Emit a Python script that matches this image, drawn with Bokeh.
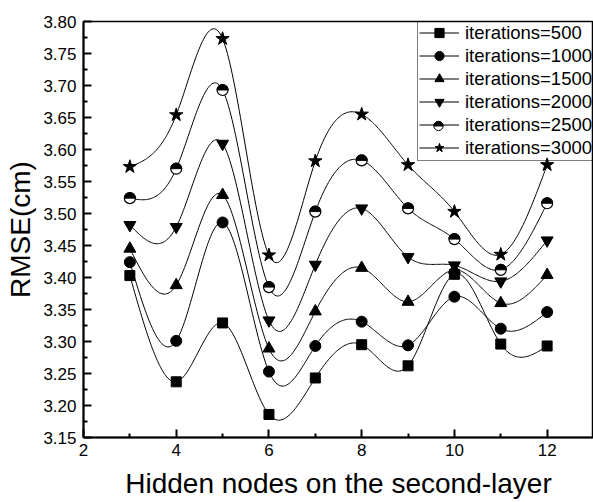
import numpy as np
from bokeh.plotting import figure
from bokeh.models import (Range1d, FixedTicker, NumeralTickFormatter, Legend, LegendItem)
from bokeh.embed import file_html
from bokeh.resources import INLINE

# ---- data ----
hidden_nodes = [3, 4, 5, 6, 7, 8, 9, 10, 11, 12]
rmse_500 = [3.403, 3.237, 3.329, 3.186, 3.243, 3.295, 3.262, 3.405, 3.296, 3.293]
rmse_1000 = [3.424, 3.301, 3.486, 3.253, 3.293, 3.331, 3.294, 3.370, 3.320, 3.346]
rmse_1500 = [3.445, 3.388, 3.529, 3.289, 3.347, 3.415, 3.362, 3.412, 3.360, 3.404]
rmse_2000 = [3.482, 3.479, 3.609, 3.333, 3.420, 3.508, 3.432, 3.419, 3.394, 3.458]
rmse_2500 = [3.524, 3.570, 3.693, 3.385, 3.503, 3.583, 3.508, 3.460, 3.412, 3.516]
rmse_3000 = [3.573, 3.654, 3.773, 3.435, 3.582, 3.655, 3.576, 3.503, 3.436, 3.576]
series_labels = ["iterations=500", "iterations=1000", "iterations=1500",
                 "iterations=2000", "iterations=2500", "iterations=3000"]
x_major_ticks = [2, 4, 6, 8, 10, 12]
x_minor_ticks = [3, 5, 7, 9, 11, 13]
y_major_ticks = [3.15, 3.20, 3.25, 3.30, 3.35, 3.40, 3.45, 3.50, 3.55, 3.60, 3.65, 3.70, 3.75, 3.80]
y_minor_ticks = [3.175, 3.225, 3.275, 3.325, 3.375, 3.425, 3.475, 3.525, 3.575, 3.625, 3.675, 3.725, 3.775]

FONT = "Liberation Sans"


def natural_spline(x, y, n=40):
    x = np.asarray(x, dtype=float)
    y = np.asarray(y, dtype=float)
    N = len(x)
    h = np.diff(x)
    A = np.zeros((N, N))
    r = np.zeros(N)
    A[0, 0] = 1.0
    A[-1, -1] = 1.0
    for i in range(1, N - 1):
        A[i, i - 1] = h[i - 1]
        A[i, i] = 2 * (h[i - 1] + h[i])
        A[i, i + 1] = h[i]
        r[i] = 6 * ((y[i + 1] - y[i]) / h[i] - (y[i] - y[i - 1]) / h[i - 1])
    M = np.linalg.solve(A, r)
    xs, ys = [], []
    for i in range(N - 1):
        x0, x1, hh = x[i], x[i + 1], h[i]
        t = np.linspace(x0, x1, n)
        s = (M[i] * (x1 - t) ** 3 / (6 * hh) + M[i + 1] * (t - x0) ** 3 / (6 * hh)
             + (y[i] / hh - M[i] * hh / 6) * (x1 - t) + (y[i + 1] / hh - M[i + 1] * hh / 6) * (t - x0))
        xs.extend(t.tolist())
        ys.extend(s.tolist())
    return xs, ys


FRAME_W, FRAME_H = 510, 416
p = figure(width=593, height=502, output_backend="svg", toolbar_location=None,
           x_range=Range1d(2, 13), y_range=Range1d(3.15, 3.80),
           min_border_left=83, min_border_right=0, min_border_top=21, min_border_bottom=65)
p.extra_x_ranges = {"px": Range1d(0, FRAME_W)}
p.extra_y_ranges = {"px": Range1d(0, FRAME_H)}
p.background_fill_color = "white"
p.border_fill_color = "white"
p.grid.visible = False
p.outline_line_color = "black"
p.outline_line_width = 1.5

for ax in (p.xaxis[0], p.yaxis[0]):
    ax.axis_line_width = 2
    ax.axis_line_color = "black"
    ax.major_tick_in = 8
    ax.major_tick_out = 0
    ax.minor_tick_in = 4
    ax.minor_tick_out = 0
    ax.major_tick_line_width = 2
    ax.minor_tick_line_width = 2
    ax.major_tick_line_color = "black"
    ax.minor_tick_line_color = "black"
    ax.major_label_text_font = FONT
    ax.major_label_text_font_size = "17px"
    ax.major_label_text_color = "black"
    ax.axis_label_text_font = FONT
    ax.axis_label_text_font_size = "28px"
    ax.axis_label_text_font_style = "normal"
    ax.axis_label_text_color = "black"

p.xaxis[0].ticker = FixedTicker(ticks=x_major_ticks, minor_ticks=x_minor_ticks)
p.yaxis[0].ticker = FixedTicker(ticks=y_major_ticks, minor_ticks=y_minor_ticks)
p.yaxis[0].formatter = NumeralTickFormatter(format="0.00")
p.xaxis[0].axis_label = "Hidden nodes on the second-layer"
p.yaxis[0].axis_label = "RMSE(cm)"
p.xaxis[0].major_label_standoff = 6
p.xaxis[0].axis_label_standoff = 9
p.yaxis[0].major_label_standoff = 7
p.yaxis[0].axis_label_standoff = 4

all_series = [rmse_500, rmse_1000, rmse_1500, rmse_2000, rmse_2500, rmse_3000]
markers = ["square", "circle", "triangle", "inverted_triangle", "circle", "star"]
sizes = [10, 11, 12, 12, 11, 14]

# legend layout (screen px, relative to frame bottom-left)
LEG_PAD, LEG_ROW, LEG_SP, LEG_GW = 1, 23, 0, 40
LEG_X, LEG_Y = 334, 276
leg_h = 2 * LEG_PAD + 6 * LEG_ROW + 5 * LEG_SP
leg_marker = 0.4 * LEG_ROW

items = []
for idx, (vals, mk, sz, lab) in enumerate(zip(all_series, markers, sizes, series_labels)):
    sx, sy = natural_spline(hidden_nodes, vals)
    ln = p.line(sx, sy, line_color="black", line_width=1)
    if lab == "iterations=2500":
        p.scatter(hidden_nodes, vals, marker="circle", size=sz, fill_color="white",
                  line_color="black", line_width=1.2)
        p.wedge(hidden_nodes, vals, radius=sz / 2, radius_units="screen", start_angle=0,
                end_angle=np.pi, fill_color="black", line_color="black", line_width=1)
        # half-filled symbol behind the (transparent) legend for this entry
        cy = LEG_Y + leg_h - (LEG_PAD + idx * (LEG_ROW + LEG_SP) + LEG_ROW / 2)
        cx = LEG_X + LEG_PAD + LEG_GW / 2
        p.scatter([cx], [cy], marker="circle", size=leg_marker, fill_color="white",
                  line_color="black", x_range_name="px", y_range_name="px")
        p.wedge([cx], [cy], radius=leg_marker / 2, radius_units="screen", start_angle=0,
                end_angle=np.pi, fill_color="black", line_color="black", line_width=1,
                x_range_name="px", y_range_name="px")
        sc = p.scatter([], [], marker="circle", size=sz, fill_color=None,
                       line_color="black", line_width=1.2)
    else:
        sc = p.scatter(hidden_nodes, vals, marker=mk, size=sz, fill_color="black",
                       line_color="black")
    items.append(LegendItem(label=lab, renderers=[ln, sc]))

legend = Legend(items=items, location=(LEG_X, LEG_Y), padding=LEG_PAD, spacing=LEG_SP,
                margin=0, label_height=LEG_ROW, glyph_height=LEG_ROW, glyph_width=LEG_GW,
                label_standoff=6, label_text_font=FONT, label_text_font_size="18.5px",
                label_text_color="black", border_line_color="black", border_line_width=1,
                background_fill_alpha=0)
p.add_layout(legend, "center")

open("out.html", "w").write(file_html(p, INLINE))
